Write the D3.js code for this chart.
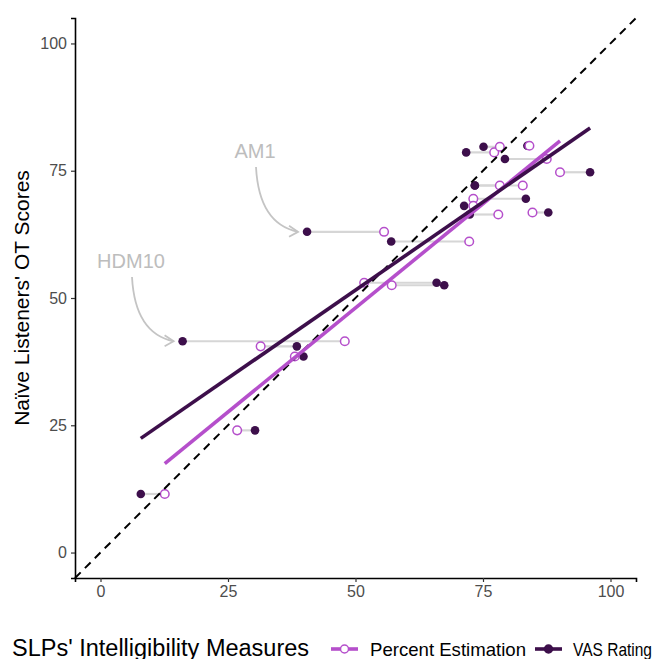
<!DOCTYPE html>
<html><head><meta charset="utf-8">
<script src="https://cdn.jsdelivr.net/npm/d3@7"></script>
<style>body{margin:0;background:#fff;} svg{display:block;font-family:"Liberation Sans",Arial,sans-serif;}</style>
</head><body>
<svg id="c" width="653" height="659"></svg>
<script>
// Naive listeners' OT scores (y) per speaker
const otScores   = [11.5, 24.0, 41.5, 40.5, 38.5, 53.0, 52.5, 63.0, 61.1, 78.6, 79.7, 79.9, 77.3, 74.7, 72.1, 72.1, 69.5, 68.1, 66.4, 66.8];
// SLPs' percent estimation per speaker
const percentEst = [12.6, 26.8, 47.9, 31.4, 38.1, 51.7, 57.1, 55.6, 72.3, 77.2, 78.3, 84.1, 87.5, 90.1, 78.3, 82.8, 73.1, 73.1, 78.0, 84.7];
// SLPs' VAS rating per speaker
const vasRating  = [7.9, 30.3, 16.1, 38.5, 39.8, 65.9, 67.4, 40.5, 57.0, 71.7, 75.1, 83.7, 79.3, 96.0, 73.4, 73.4, 83.4, 71.3, 72.4, 87.8];
const speakerLabels = ["", "", "HDM10", "", "", "", "", "AM1", "", "", "", "", "", "", "", "", "", "", "", ""];
const ticks = [0, 25, 50, 75, 100];
const seriesNames = ["Percent Estimation", "VAS Rating"];
const colPE = "#B54FCB", colVAS = "#3D0F4B";

const svg = d3.select("#c");
const L = 75, R = 636, T = 18, B = 578;
const x = d3.scaleLinear().domain([-5, 105]).range([L, R]);
const y = d3.scaleLinear().domain([-5, 105]).range([B, T]);

function lm(xs, ys) {
  const mx = d3.mean(xs), my = d3.mean(ys);
  let sxy = 0, sxx = 0;
  xs.forEach((v, i) => { sxy += (v - mx) * (ys[i] - my); sxx += (v - mx) ** 2; });
  const b = sxy / sxx, a = my - b * mx;
  const x0 = d3.min(xs), x1 = d3.max(xs);
  return [[x0, a + b * x0], [x1, a + b * x1]];
}

const data = otScores.map((o, i) => ({ ot: o, pe: percentEst[i], vas: vasRating[i], lab: speakerLabels[i] }));

const g = svg.append("g");
// dumbbell segments
g.selectAll("line.seg").data(data).join("line")
  .attr("x1", d => x(Math.min(d.pe, d.vas))).attr("x2", d => x(Math.max(d.pe, d.vas)))
  .attr("y1", d => y(d.ot)).attr("y2", d => y(d.ot))
  .attr("stroke", "#d6d6d6").attr("stroke-width", 2.2);

// points
g.selectAll("circle.vas").data(data).join("circle")
  .attr("cx", d => x(d.vas)).attr("cy", d => y(d.ot)).attr("r", 4.3)
  .attr("fill", colVAS);
g.selectAll("circle.pe").data(data).join("circle")
  .attr("cx", d => x(d.pe)).attr("cy", d => y(d.ot)).attr("r", 4.3)
  .attr("fill", "#fff").attr("stroke", colPE).attr("stroke-width", 1.5);

// identity line
g.append("line").attr("x1", x(-5)).attr("y1", y(-5)).attr("x2", x(105)).attr("y2", y(105))
  .attr("stroke", "#000").attr("stroke-width", 2).attr("stroke-dasharray", "8,6");

// regression lines
const line = d3.line().x(d => x(d[0])).y(d => y(d[1]));
g.append("path").attr("d", line(lm(percentEst, otScores))).attr("stroke", colPE).attr("stroke-width", 3.6).attr("fill", "none");
g.append("path").attr("d", line(lm(vasRating, otScores))).attr("stroke", colVAS).attr("stroke-width", 3.6).attr("fill", "none");

// annotations
const ann = data.filter(d => d.lab);
const annText = { "AM1": [255, 158], "HDM10": [131, 268] };
ann.forEach(d => {
  const [tx, ty] = annText[d.lab];
  const ex = x(Math.min(d.pe, d.vas)) - 9, ey = y(d.ot);
  const sx = tx + 1, sy = ty + 9;
  const cx = sx + 3, cy = ey - 8;
  svg.append("text").attr("x", tx).attr("y", ty).attr("text-anchor", "middle")
    .attr("font-size", 20).attr("fill", "#bdbdbd").text(d.lab);
  svg.append("path").attr("d", `M${sx},${sy} Q${cx},${cy} ${ex},${ey}`)
    .attr("fill", "none").attr("stroke", "#c4c4c4").attr("stroke-width", 1.8);
  svg.append("path").attr("d", `M${ex-9},${ey-6} L${ex},${ey} L${ex-9},${ey+5}`)
    .attr("fill", "none").attr("stroke", "#c4c4c4").attr("stroke-width", 1.8);
});

// axes
const xa = svg.append("g").attr("transform", `translate(0,${B})`)
  .call(d3.axisBottom(x).tickValues(ticks).tickSize(4).tickPadding(4));
const ya = svg.append("g").attr("transform", `translate(${L},0)`)
  .call(d3.axisLeft(y).tickValues(ticks).tickSize(4).tickPadding(4));
[xa, ya].forEach(a => {
  a.select(".domain").attr("stroke", "#000").attr("stroke-width", 1.6);
  a.selectAll(".tick line").attr("stroke", "#333").attr("stroke-width", 1.2);
  a.selectAll(".tick text").attr("fill", "#4d4d4d").attr("font-size", 16)
    .attr("font-family", "Liberation Sans, Arial, sans-serif");
});

svg.append("text").attr("transform", `translate(29,${(T + B) / 2}) rotate(-90)`)
  .attr("text-anchor", "middle").attr("font-size", 21).attr("fill", "#000")
  .text("Naïve Listeners' OT Scores");

// legend
const ly = 649;
svg.append("text").attr("x", 12).attr("y", ly + 7).attr("font-size", 23.5).attr("fill", "#000")
  .text("SLPs' Intelligibility Measures");
const keys = [{ x: 331, c: colPE, open: true, tx: 370, w: 156, name: seriesNames[0] },
              { x: 535, c: colVAS, open: false, tx: 573, w: 79, name: seriesNames[1] }];
keys.forEach(k => {
  svg.append("line").attr("x1", k.x).attr("x2", k.x + 27).attr("y1", ly).attr("y2", ly)
    .attr("stroke", k.c).attr("stroke-width", 3.6);
  svg.append("circle").attr("cx", k.x + 13.5).attr("cy", ly).attr("r", 4)
    .attr("fill", k.open ? "#fff" : k.c).attr("stroke", k.c).attr("stroke-width", 1.5);
  svg.append("text").attr("x", k.tx).attr("y", ly + 6.5).attr("font-size", 18.5).attr("fill", "#000")
    .attr("textLength", k.w).attr("lengthAdjust", "spacingAndGlyphs").text(k.name);
});
</script>
</body></html>
